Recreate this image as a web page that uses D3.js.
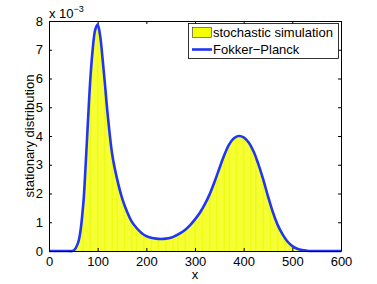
<!DOCTYPE html>
<html>
<head>
<meta charset="utf-8">
<script src="https://cdn.jsdelivr.net/npm/d3@7"></script>
<style>
  body { margin: 0; background: #fff; }
  text { font-family: "Liberation Sans", Arial, sans-serif; }
</style>
</head>
<body>
<div id="chart-area"></div>
<script>
// data (density in units of 1e-3)
var xs = [0, 10, 20, 30, 40, 50, 60, 70, 75, 80, 85, 90, 95, 100, 105, 110, 115, 120, 130, 140, 150, 160, 170, 180, 190,
          200, 210, 220, 230, 240, 250, 260, 270, 280, 290, 300, 310, 320, 330, 340, 350, 360, 370, 380, 390,
          400, 410, 420, 430, 440, 450, 460, 470, 480, 490, 500, 510, 520, 530, 540, 550, 560, 570, 580, 590, 600];
var fokkerPlanck = [0, 0, 0, 0, 0, 0.01, 0.3, 1.55, 2.9, 4.5, 6.0, 7.05, 7.7, 7.88, 7.5, 6.7, 5.8, 4.85, 3.35, 2.5, 1.85, 1.38, 1.02, 0.8, 0.63,
          0.52, 0.46, 0.43, 0.42, 0.43, 0.46, 0.53, 0.62, 0.74, 0.9, 1.1, 1.33, 1.62, 1.97, 2.4, 2.87, 3.33, 3.7, 3.92, 4.0,
          3.95, 3.78, 3.48, 3.03, 2.5, 1.9, 1.35, 0.9, 0.58, 0.33, 0.17, 0.08, 0.03, 0.01, 0, 0, 0, 0, 0, 0, 0];
// histogram bin edges where the simulated bars show a darker edge
var binEdges = [55, 70, 85, 100, 115, 130, 140, 155, 170, 180, 195, 210, 225, 240, 255, 265, 280, 300, 315,
          330, 345, 360, 370, 385, 400, 415, 425, 440, 455, 470, 485, 500];
var xTicks = [0, 100, 200, 300, 400, 500, 600];
var yTicks = [0, 1, 2, 3, 4, 5, 6, 7, 8];

var svgW = 377, svgH = 284;
var margin = { left: 49, right: 36, top: 21, bottom: 33 };
var width = svgW - margin.left - margin.right,
    height = svgH - margin.top - margin.bottom;

var svg = d3.select("#chart-area").append("svg")
    .attr("width", svgW)
    .attr("height", svgH);
var g = svg.append("g")
    .attr("transform", "translate(" + margin.left + "," + margin.top + ")");

var x = d3.scaleLinear().domain([0, 600]).range([0, width]);
var y = d3.scaleLinear().domain([0, 8]).range([height, 0]);

var pts = xs.map(function(d, i){ return { x: d, v: fokkerPlanck[i] }; });
var smooth = d3.curveCatmullRom.alpha(0.5);

// simulation histogram (yellow) under the curve
var area = d3.area()
    .x(function(d){ return x(d.x); })
    .y0(height)
    .y1(function(d){ return Math.min(height, y(d.v * 0.99)); })
    .curve(smooth);

svg.append("defs").append("clipPath").attr("id", "histClip")
    .append("path").attr("d", area(pts));

g.append("path")
    .attr("d", area(pts))
    .attr("fill", "#f6ff33");

g.append("g").attr("clip-path", "url(#histClip)")
    .selectAll("line").data(binEdges).enter().append("line")
    .attr("x1", function(d){ return x(d); })
    .attr("x2", function(d){ return x(d); })
    .attr("y1", 0).attr("y2", height)
    .attr("stroke", "#eefc14")
    .attr("stroke-width", 1.5);

// Fokker-Planck curve
var line = d3.line()
    .x(function(d){ return x(d.x); })
    .y(function(d){ return y(d.v); })
    .curve(smooth);

g.append("path")
    .attr("d", line(pts))
    .attr("fill", "none")
    .attr("stroke", "#2136f2")
    .attr("stroke-width", 2.6)
    .attr("stroke-linejoin", "round");

// Axes (MATLAB style, ticks inside, box around)
var xAxis = d3.axisBottom(x).tickValues(xTicks).tickSizeInner(-3).tickSizeOuter(0).tickPadding(5);
var yAxis = d3.axisLeft(y).tickValues(yTicks).tickSizeInner(-3).tickSizeOuter(0).tickPadding(6);

var gx = g.append("g").attr("transform", "translate(0," + height + ")").call(xAxis);
var gy = g.append("g").call(yAxis);
g.append("g").call(d3.axisTop(x).tickValues(xTicks).tickSizeInner(-3).tickSizeOuter(0).tickFormat(""));
g.append("g").attr("transform", "translate(" + width + ",0)")
    .call(d3.axisRight(y).tickValues(yTicks).tickSizeInner(-3).tickSizeOuter(0).tickFormat(""));

g.selectAll(".domain").attr("stroke", "#000").attr("stroke-width", 1);
g.selectAll(".tick line").attr("stroke", "#000");
g.selectAll(".tick text").attr("font-size", "13px").attr("fill", "#000")
    .style("font-family", "'Liberation Sans', Arial, sans-serif");
gx.selectAll(".tick text").attr("dy", "0.75em");

// exponent label
var exp = g.append("text")
    .attr("x", 0).attr("y", -3)
    .attr("font-size", "13px")
    .text("x 10");
exp.append("tspan").attr("font-size", "9px").attr("dy", -6).text("\u22123");

// Labels
g.append("text")
    .attr("x", width / 2).attr("y", height + 28)
    .attr("text-anchor", "middle")
    .attr("font-size", "13px")
    .text("x");
g.append("text")
    .attr("transform", "rotate(-90)")
    .attr("x", -height / 2).attr("y", -15)
    .attr("text-anchor", "middle")
    .attr("font-size", "13px")
    .text("stationary distribution");

// Legend
var legend = g.append("g").attr("transform", "translate(" + (188 - margin.left) + "," + (23 - margin.top) + ")");
legend.append("rect")
    .attr("x", 0.5).attr("y", 0.5)
    .attr("width", 150).attr("height", 35)
    .attr("fill", "#fff").attr("stroke", "#000").attr("stroke-width", 0.8);
legend.append("rect")
    .attr("x", 4.5).attr("y", 4.5).attr("width", 19).attr("height", 10)
    .attr("fill", "#f6ff00").attr("stroke", "#333").attr("stroke-width", 0.6);
legend.append("text")
    .attr("x", 25).attr("y", 14)
    .attr("font-size", "13px")
    .text("stochastic simulation");
legend.append("line")
    .attr("x1", 4).attr("x2", 24).attr("y1", 26.5).attr("y2", 26.5)
    .attr("stroke", "#2136f2").attr("stroke-width", 2.6);
legend.append("text")
    .attr("x", 25).attr("y", 31)
    .attr("font-size", "13px")
    .text("Fokker\u2212Planck");
</script>
</body>
</html>
